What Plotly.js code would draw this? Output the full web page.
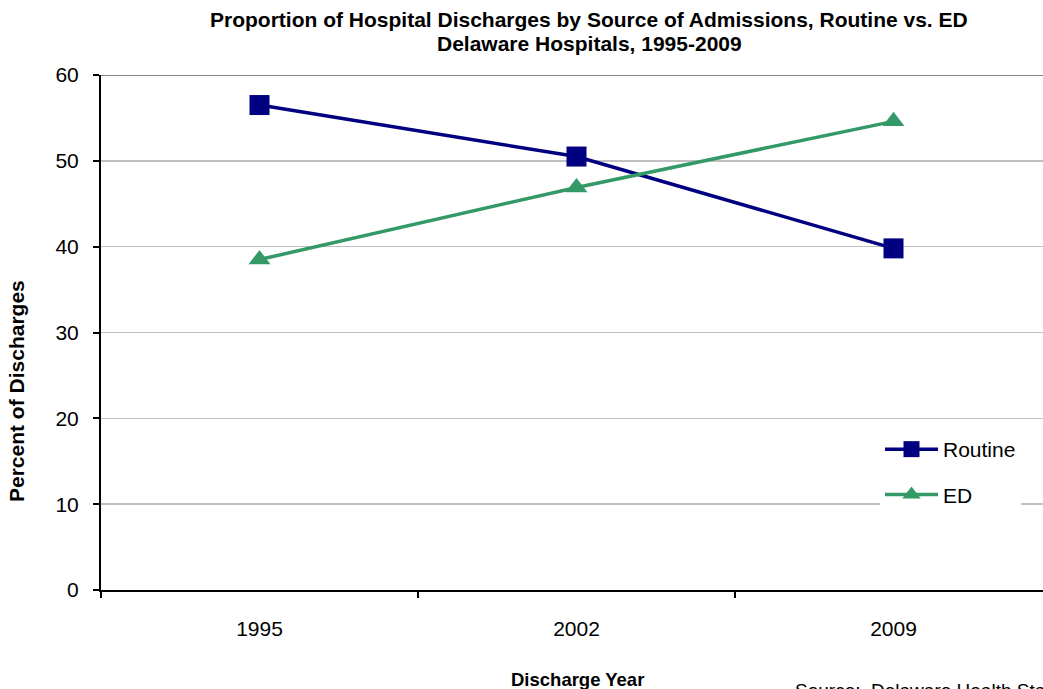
<!DOCTYPE html>
<html><head><meta charset="utf-8">
<script src="https://cdn.plot.ly/plotly-3.0.1.min.js"></script>
<style>html,body{margin:0;padding:0;overflow:hidden;background:#fff;width:1043px;height:689px}</style>
</head><body>
<div id="chart" style="width:1060px;height:689px"></div>
<script>
const years = ["1995", "2002", "2009"];
const routine = [56.5, 50.5, 39.8];
const ed = [38.5, 46.9, 54.6];
const seriesNames = ["Routine", "ED"];
const titleLines = ["Proportion of Hospital Discharges by Source of Admissions, Routine vs. ED", "Delaware Hospitals, 1995-2009"];

const font = "Liberation Sans, Arial, sans-serif";
const PL = 101, PT = 75, PW = 951, PH = 515;
const px = v => (v - PL) / PW;
const py = v => (PT + PH - v) / PH;

const traces = [
  {x: years, y: routine, name: seriesNames[0], legendgroup: "a", type: "scatter", mode: "lines+markers",
   line: {color: "#000080", width: 3.5}, marker: {symbol: "square", size: 20, color: "#000080"}},
  {x: years, y: ed, name: seriesNames[1], legendgroup: "b", type: "scatter", mode: "lines+markers",
   line: {color: "#339966", width: 3.5}, marker: {symbol: "triangle-up", size: 19, color: "#339966"}}
];
const layout = {
  width: 1060, height: 689,
  margin: {l: PL, r: 1060 - PL - PW, t: PT, b: 689 - PT - PH},
  paper_bgcolor: "#fff", plot_bgcolor: "#fff",
  font: {family: font, size: 21, color: "#000"},
  xaxis: {type: "category", tickson: "boundaries", range: [-0.5, 2.5], showgrid: false,
          showline: true, linecolor: "#000", linewidth: 2, ticks: "outside", ticklen: 6, tickcolor: "#000", tickwidth: 2,
          ticklabelstandoff: 19, tickfont: {size: 21}, zeroline: false},
  yaxis: {range: [0, 60], dtick: 10, tick0: 0, showgrid: true, gridcolor: "#c0c0c0", gridwidth: 1.5,
          showline: true, linecolor: "#000", linewidth: 2, ticks: "outside", ticklen: 6, tickcolor: "#000", tickwidth: 2,
          ticklabelstandoff: 10, tickfont: {size: 21}, zeroline: false},
  shapes: [{type: "line", xref: "paper", yref: "y", x0: 0, x1: 1, y0: 60, y1: 60, line: {color: "#888", width: 2}}],
  showlegend: true,
  legend: {x: px(880), y: py(472), xanchor: "left", yanchor: "middle", bgcolor: "#fff",
           font: {size: 21}, tracegroupgap: 15, itemwidth: 53, traceorder: "grouped"},
  annotations: [
    {text: "<b>" + titleLines[0] + "</b>", xref: "paper", yref: "paper", x: px(589), y: py(19.5), xanchor: "center", yanchor: "middle",
     showarrow: false, font: {size: 21}},
    {text: "<b>" + titleLines[1] + "</b>", xref: "paper", yref: "paper", x: px(589), y: py(43.5), xanchor: "center", yanchor: "middle",
     showarrow: false, font: {size: 21}},
    {text: "<b>Percent of Discharges</b>", xref: "paper", yref: "paper", x: px(16), y: py(391), xanchor: "center", yanchor: "middle",
     textangle: -90, showarrow: false, font: {size: 21}},
    {text: "<b>Discharge Year</b>", xref: "paper", yref: "paper", x: px(577), y: py(679), xanchor: "center", yanchor: "middle",
     showarrow: false, font: {size: 18.5}},
    {text: "Source:  Delaware Health Statistics Center", xref: "paper", yref: "paper", x: px(793), y: py(690), xanchor: "left", yanchor: "middle",
     showarrow: false, font: {size: 19}}
  ]
};
Plotly.newPlot("chart", traces, layout, {displayModeBar: false, staticPlot: true});
</script>
</body></html>
